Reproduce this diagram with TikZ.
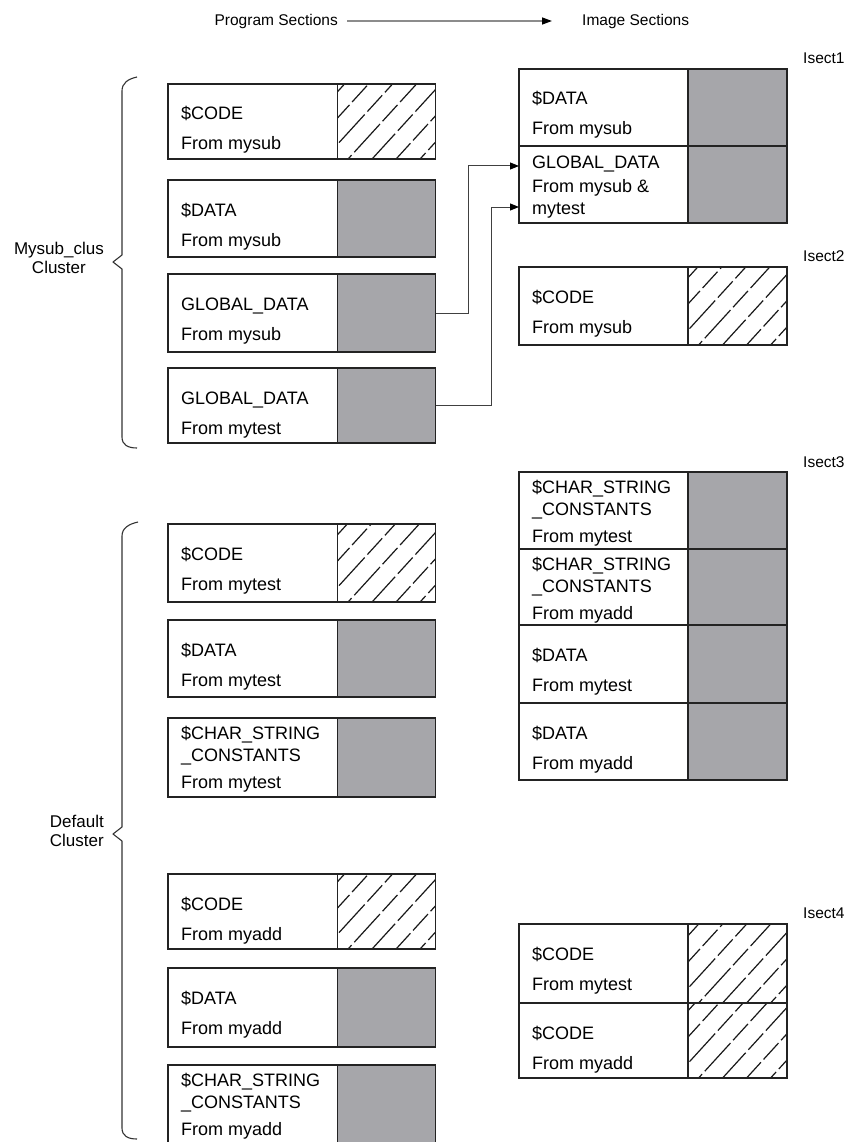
\documentclass[tikz,border=0pt]{standalone}
\usepackage{fontspec}
\setmainfont{Liberation Sans}
\usetikzlibrary{arrows.meta}
\definecolor{secgray}{RGB}{166,166,170}
\definecolor{linec}{RGB}{35,35,35}
\newcommand\grayBox[6]{%
  \node[cell, minimum width={#3-#2}, minimum height={#6-#5}] (#1) at (#2,#5) {};
  \node[cell, fill=secgray, minimum width={#4-#3}, minimum height={#6-#5}] (#1f) at (#3,#5) {};
}
\newcommand\hatchBox[6]{%
  \begin{scope}
    \clip (#3,#5) rectangle (#4,#6);
    \foreach \k [evaluate=\k as \ph using \k*13] in {0,...,9}{%
      \draw[hatchline, dash phase=\ph pt] ({#3-90+\k*24},{#6+5}) -- ++(105,-115);}
  \end{scope}
  \node[cell, minimum width={#3-#2}, minimum height={#6-#5}] (#1) at (#2,#5) {};
  \node[cell, minimum width={#4-#3}, minimum height={#6-#5}] (#1f) at (#3,#5) {};
}
\begin{document}
\begin{tikzpicture}[x=1pt,y=-1pt,
  cell/.style={draw=linec, line width=1.1pt, inner sep=0pt, outer sep=0pt, anchor=north west},
  hatchline/.style={draw=black!90, line width=1.2pt, dash pattern=on 38pt off 4pt on 22pt off 4pt},
  txt/.style={anchor=base west, inner sep=0pt, font=\fontsize{18}{21}\selectfont, text=black},
  lbl/.style={inner sep=0pt, font=\fontsize{15.5}{18}\selectfont, text=black},
  clus/.style={inner sep=0pt, anchor=east, align=center, font=\fontsize{17}{19}\selectfont, text=black},
  brace/.style={draw=black!80, line width=1.1pt, line join=round},
  conn/.style={draw=black!75, line width=1pt, -{Triangle[length=9pt,width=7pt,color=black]}},
  hdrarrow/.style={draw=black!45, line width=1.4pt, -{Triangle[length=10pt,width=7pt,color=black]}}
]
\useasboundingbox (0,0) rectangle (853,1142);
\fill[white] (0,0) rectangle (853,1142);

% header
\node[lbl, anchor=east] (hdrL) at (338,21) {Program Sections};
\node[lbl, anchor=west] (hdrR) at (582,21) {Image Sections};
\draw[hdrarrow] ([xshift=9pt]hdrL.east) -- ([xshift=-30pt]hdrR.west);

% ---------- program sections (left) ----------
\hatchBox{p1}{168}{337.5}{435.5}{84}{159}
\node[txt] (p1a) at (181,120) {\$CODE};
\node[txt] (p1b) at (181,150) {From mysub};

\grayBox{p2}{168}{337.5}{435.5}{180}{257}
\node[txt] (p2a) at (181,216) {\$DATA};
\node[txt] (p2b) at (181,246) {From mysub};

\grayBox{p3}{168}{337.5}{435.5}{274}{352}
\node[txt] (p3a) at (181,310) {GLOBAL\_DATA};
\node[txt] (p3b) at (181,340) {From mysub};

\grayBox{p4}{168}{337.5}{435.5}{368}{443}
\node[txt] (p4a) at (181,404) {GLOBAL\_DATA};
\node[txt] (p4b) at (181,434) {From mytest};

\hatchBox{p5}{168}{337.5}{435.5}{524}{602}
\node[txt] (p5a) at (181,560) {\$CODE};
\node[txt] (p5b) at (181,590) {From mytest};

\grayBox{p6}{168}{337.5}{435.5}{620}{697}
\node[txt] (p6a) at (181,656) {\$DATA};
\node[txt] (p6b) at (181,686) {From mytest};

\grayBox{p7}{168}{337.5}{435.5}{718}{797}
\node[txt] (p7a) at (181,739) {\$CHAR\_STRING};
\node[txt] (p7b) at (181,761) {\_CONSTANTS};
\node[txt] (p7c) at (181,788) {From mytest};

\hatchBox{p8}{168}{337.5}{435.5}{874}{949}
\node[txt] (p8a) at (181,910) {\$CODE};
\node[txt] (p8b) at (181,940) {From myadd};

\grayBox{p9}{168}{337.5}{435.5}{968}{1047}
\node[txt] (p9a) at (181,1004) {\$DATA};
\node[txt] (p9b) at (181,1034) {From myadd};

\grayBox{p10}{168}{337.5}{435.5}{1065}{1146}
\node[txt] (p10a) at (181,1086) {\$CHAR\_STRING};
\node[txt] (p10b) at (181,1108) {\_CONSTANTS};
\node[txt] (p10c) at (181,1135) {From myadd};

% braces and cluster labels
\draw[brace] (137,77) .. controls (128,79) and (122,83) .. (122,91) -- (122,255) -- (113,262) -- (122,269) -- (122,437) .. controls (122,445) and (128,448) .. (137,448);
\node[clus] (mysubclus) at (104,258) {Mysub\_clus\\Cluster};

\draw[brace] (138,522) .. controls (129,524) and (122,528) .. (122,536) -- (122,827) -- (113,834) -- (122,841) -- (122,1128) .. controls (122,1136) and (128,1139) .. (137,1139);
\node[clus] (defclus) at (104,831) {Default\\Cluster};

% ---------- image sections (right) ----------
\node[lbl, anchor=west] (is1) at (803,58) {Isect1};
\grayBox{i1a}{519}{688}{787}{69}{146}
\node[txt] (i1aa) at (532,105) {\$DATA};
\node[txt] (i1ab) at (532,135) {From mysub};
\grayBox{i1b}{519}{688}{787}{146}{223}
\node[txt] (i1ba) at (532,169) {GLOBAL\_DATA};
\node[txt] (i1bb) at (532,193) {From mysub \&};
\node[txt] (i1bc) at (532,214) {mytest};

\node[lbl, anchor=west] (is2) at (803,256) {Isect2};
\hatchBox{i2}{519}{688}{787}{267}{345}
\node[txt] (i2a) at (532,303) {\$CODE};
\node[txt] (i2b) at (532,333) {From mysub};

\node[lbl, anchor=west] (is3) at (803,462) {Isect3};
\grayBox{i3a}{519}{688}{787}{472}{549}
\node[txt] (i3aa) at (532,493) {\$CHAR\_STRING};
\node[txt] (i3ab) at (532,515) {\_CONSTANTS};
\node[txt] (i3ac) at (532,542) {From mytest};
\grayBox{i3b}{519}{688}{787}{549}{625}
\node[txt] (i3ba) at (532,570) {\$CHAR\_STRING};
\node[txt] (i3bb) at (532,592) {\_CONSTANTS};
\node[txt] (i3bc) at (532,619) {From myadd};
\grayBox{i3c}{519}{688}{787}{625}{703}
\node[txt] (i3ca) at (532,661) {\$DATA};
\node[txt] (i3cb) at (532,691) {From mytest};
\grayBox{i3d}{519}{688}{787}{703}{780}
\node[txt] (i3da) at (532,739) {\$DATA};
\node[txt] (i3db) at (532,769) {From myadd};

\node[lbl, anchor=west] (is4) at (803,913) {Isect4};
\hatchBox{i4a}{519}{688}{787}{924}{1003}
\node[txt] (i4aa) at (532,960) {\$CODE};
\node[txt] (i4ab) at (532,990) {From mytest};
\hatchBox{i4b}{519}{688}{787}{1003}{1078}
\node[txt] (i4ba) at (532,1039) {\$CODE};
\node[txt] (i4bb) at (532,1069) {From myadd};

% connectors
\draw[conn] (p3f.east) -- ++(33,0) |- ([yshift=18.5pt]i1b.west);
\draw[conn] (p4f.east) -- ++(56,0) |- ([yshift=-22.5pt]i1b.west);
\end{tikzpicture}
\end{document}
